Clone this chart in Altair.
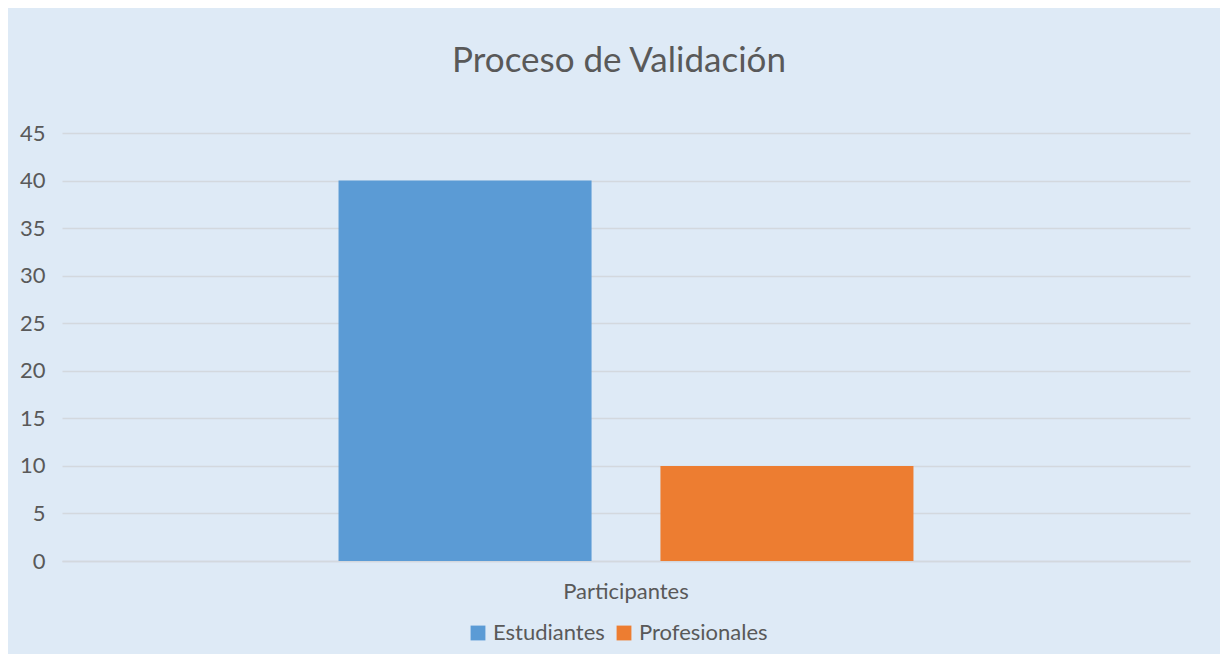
import altair as alt
import pandas as pd

categories = ["Participantes", "Participantes"]
series = ["Estudiantes", "Profesionales"]
values = [40, 10]
colors = ["#5B9BD5", "#ED7D31"]
y_ticks = [0, 5, 10, 15, 20, 25, 30, 35, 40, 45]

df = pd.DataFrame({"categoria": categories, "serie": series, "valor": values})

FONT = "Lato"
TXT = "#595959"
BG = "#DEEAF6"
GRID = "#D3D8DE"

chart = (
    alt.Chart(df)
    .mark_bar()
    .encode(
        x=alt.X(
            "categoria:N",
            title=None,
            scale=alt.Scale(paddingInner=0, paddingOuter=0.481),
            axis=alt.Axis(
                labelAngle=0,
                ticks=False,
                domain=True,
                domainColor=GRID,
                domainWidth=1.5,
                labelFont=FONT,
                labelFontSize=22,
                labelColor=TXT,
                labelPadding=20,
            ),
        ),
        xOffset=alt.XOffset(
            "serie:N",
            sort=series,
            scale=alt.Scale(paddingInner=0.214, paddingOuter=0),
        ),
        y=alt.Y(
            "valor:Q",
            title=None,
            scale=alt.Scale(domain=[0, 45], nice=False),
            axis=alt.Axis(
                values=y_ticks,
                ticks=False,
                domain=False,
                gridColor=GRID,
                gridWidth=1.5,
                labelFont=FONT,
                labelFontSize=22,
                labelColor=TXT,
                labelPadding=17,
            ),
        ),
        color=alt.Color(
            "serie:N",
            sort=series,
            scale=alt.Scale(domain=series, range=colors),
            legend=alt.Legend(
                title=None,
                orient="none",
                legendX=405,
                legendY=489,
                direction="horizontal",
                symbolType="square",
                symbolSize=220,
                symbolStrokeWidth=0,
                labelFont=FONT,
                labelFontSize=22,
                labelColor=TXT,
                columnPadding=8,
            ),
        ),
    )
    .properties(
        width=1128,
        height=428,
        title=alt.Title(
            "Proceso de Validación",
            font=FONT,
            fontSize=35,
            fontWeight="normal",
            color=TXT,
            anchor="middle",
            offset=43,
            dx=-7,
        ),
        background=BG,
        padding={"left": 54, "top": 125, "right": 30, "bottom": 93},
        autosize=alt.AutoSizeParams(type="none"),
    )
    .configure_view(stroke=None)
)

chart.save("out.html", embed_options={"renderer": "svg", "actions": False})
